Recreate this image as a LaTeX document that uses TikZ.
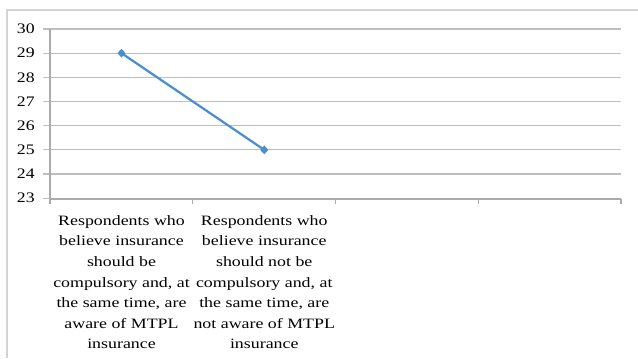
\documentclass[tikz,border=0pt]{standalone}
\usepackage{fontspec}
\setmainfont{Liberation Serif}
\usetikzlibrary{positioning, calc, shapes.geometric}
\definecolor{framegray}{RGB}{212,212,212}
\definecolor{gridgray}{RGB}{190,190,190}
\definecolor{seriesblue}{RGB}{74,142,210}

\begin{document}
\begin{tikzpicture}[
    x=0.03cm, y=-0.03cm,
    gridline/.style={gridgray, line width=1.1pt},
    axisline/.style={gridgray!90!black, line width=0.9pt},
    ticklabel/.style={font=\fontsize{12.4}{14}\selectfont, anchor=east, inner sep=0pt, xscale=1.22, transform shape},
    catlabel/.style={font=\fontsize{12.2}{17.6}\selectfont, align=center, anchor=north, inner sep=0pt, xscale=1.25, transform shape},
    series/.style={seriesblue, line width=1.9pt},
    marker/.style={diamond, fill=seriesblue, inner sep=0pt, minimum width=0.25cm, minimum height=0.27cm},
]
\useasboundingbox (0,0) rectangle (638,358);

% ===== frame =====
\draw[framegray, line width=1.4pt] (7,358) -- (7,10) -- (638,10);

% ===== grid + y labels =====
\foreach \v in {23,...,30} {
    \draw[gridline] (43,{29+(30-\v)*24.17}) -- (621,{29+(30-\v)*24.17});
    \node[ticklabel] (y\v) at (35,{29+(30-\v)*24.17}) {\v};
}

% axes
\coordinate (origin) at (50,199);
\coordinate (ytop) at (50,29);
\draw[axisline] ($(origin)+(0,5)$) -- (ytop);
\draw[axisline] (origin) -- (621,199);
\foreach \i in {1,...,4} {
    \draw[axisline] ({50+\i*142.75},199) -- ({50+\i*142.75},204);
}

% ===== categories =====
\node[catlabel] (cat1) at (121.5,215) {Respondents who\\believe insurance\\should be\\compulsory and, at\\the same time, are\\aware of MTPL\\insurance};
\node[catlabel] (cat2) at (264.25,215) {Respondents who\\believe insurance\\should not be\\compulsory and, at\\the same time, are\\not aware of MTPL\\insurance};

% ===== data series =====
\node[marker] (p1) at (121.5,{29+(30-29)*24.17}) {};
\node[marker] (p2) at (264.25,{29+(30-25)*24.17}) {};
\draw[series] (p1.center) -- (p2.center);

\end{tikzpicture}
\end{document}
